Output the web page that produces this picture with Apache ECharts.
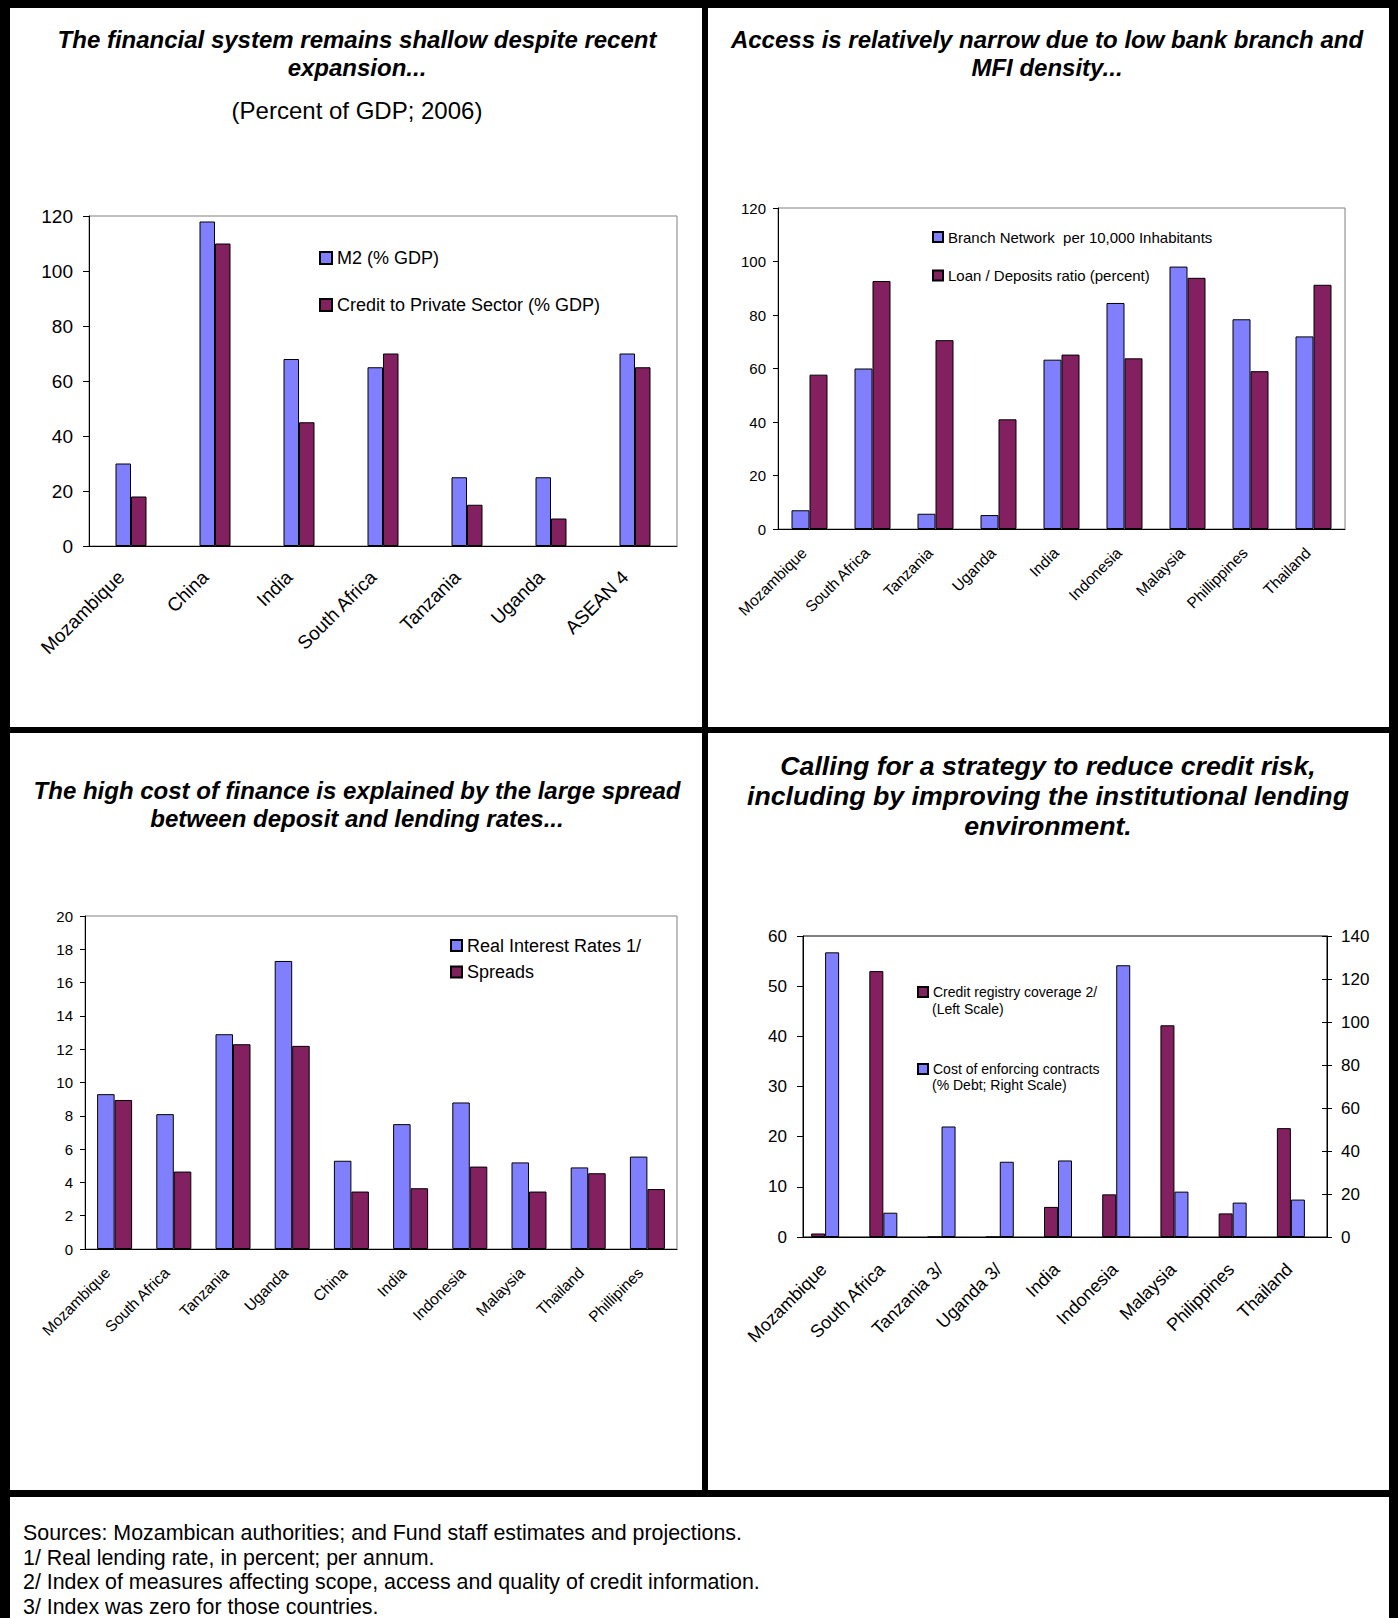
<!DOCTYPE html>
<html>
<head>
<meta charset="utf-8">
<style>
  html, body { margin: 0; padding: 0; background: #fff; }
  #main { width: 1398px; height: 1618px; }
</style>
<script src="https://cdn.jsdelivr.net/npm/echarts@6/dist/echarts.min.js"></script>
</head>
<body>
<div id="main"></div>
<script>
// chart 1: financial depth
const depthCountries = ['Mozambique', 'China', 'India', 'South Africa', 'Tanzania', 'Uganda', 'ASEAN 4'];
const m2Gdp = [30, 118, 68, 65, 25, 25, 70];
const creditGdp = [18, 110, 45, 70, 15, 10, 65];

// chart 2: access
const accessCountries = ['Mozambique', 'South Africa', 'Tanzania', 'Uganda', 'India', 'Indonesia', 'Malaysia', 'Phillippines', 'Thailand'];
const branchNetwork = [7, 60, 5.7, 5.2, 63.3, 84.5, 98.1, 78.4, 72];
const loanDeposits = [57.7, 92.7, 70.6, 41, 65.2, 63.8, 93.9, 59, 91.3];

// chart 3: cost of finance
const costCountries = ['Mozambique', 'South Africa', 'Tanzania', 'Uganda', 'China', 'India', 'Indonesia', 'Malaysia', 'Thailand', 'Phillipines'];
const realRates = [9.3, 8.1, 12.9, 17.3, 5.3, 7.5, 8.8, 5.2, 4.9, 5.55];
const spreads = [8.95, 4.65, 12.3, 12.2, 3.45, 3.65, 4.95, 3.45, 4.55, 3.6];

// chart 4: credit risk
const riskCountries = ['Mozambique', 'South Africa', 'Tanzania 3/', 'Uganda 3/', 'India', 'Indonesia', 'Malaysia', 'Philippines', 'Thailand'];
const registryCoverage = [0.7, 53, 0, 0, 6, 8.5, 42.2, 4.7, 21.7];
const enforcingCost = [132.4, 11.3, 51.4, 35, 35.6, 126.4, 21.1, 16, 17.4];

const footNotes = [
    'Sources: Mozambican authorities; and Fund staff estimates and projections.',
    '1/ Real lending rate, in percent; per annum.',
    '2/ Index of measures affecting scope, access and quality of credit information.',
    '3/ Index was zero for those countries.'
];

const FONT = '"Liberation Sans", Arial, sans-serif';
const BLUE = '#8080ff';
const PLUM = '#822060';

const myChart = echarts.init(document.getElementById('main'), null, { renderer: 'svg' });

// pad pushes the rotated label back along its own direction (down-left)
function catAxis(grid, data, size, margin, tickLen, pad) {
    return {
        gridIndex: grid, type: 'category', data: data,
        axisLine: { lineStyle: { color: '#000', width: 1 } },
        axisTick: { length: tickLen, lineStyle: { color: '#000' } },
        axisLabel: {
            rotate: 45, interval: 0, margin: margin, color: '#000',
            fontSize: size, fontFamily: FONT, padding: [0, pad, 0, 0]
        }
    };
}
function valAxis(grid, max, step, size, margin, tickLen) {
    return {
        gridIndex: grid, type: 'value', min: 0, max: max, interval: step,
        axisLine: { show: true, lineStyle: { color: '#000', width: 1 } },
        axisTick: { show: true, length: tickLen, lineStyle: { color: '#000' } },
        splitLine: { show: false },
        axisLabel: { margin: margin, color: '#000', fontSize: size, fontFamily: FONT }
    };
}
function bar(name, x, y, data, color, width) {
    return {
        name: name, type: 'bar', xAxisIndex: x, yAxisIndex: y, data: data,
        barWidth: width, barGap: '0%',
        itemStyle: { color: color, borderColor: '#000', borderWidth: 1 },
        emphasis: { disabled: true }
    };
}
function legend(names, left, top, size, box, gap) {
    return {
        data: names, orient: 'vertical', left: left, top: top, padding: 0,
        itemWidth: box, itemHeight: box, itemGap: gap, icon: 'rect', selectedMode: false,
        textStyle: { color: '#000', fontSize: size, fontFamily: FONT }
    };
}
function txt(x, y, text, font, align) {
    return {
        type: 'text', x: x, y: y,
        style: { text: text, font: font, fill: '#000', align: align || 'center', verticalAlign: 'middle' }
    };
}
function box(x, y, w, h) {
    return { type: 'rect', shape: { x: x, y: y, width: w, height: h }, style: { fill: '#000' } };
}

const titleFont = 'italic bold 24px ' + FONT;
const bigTitleFont = 'italic bold 26.7px ' + FONT;
const graphics = [
    box(0, 0, 1398, 8), box(0, 0, 10, 1618), box(1389, 0, 9, 1618),
    box(702, 0, 6, 1493), box(0, 727, 1398, 6), box(0, 1490, 1398, 7),
    txt(357, 39, 'The financial system remains shallow despite recent', titleFont),
    txt(357, 67, 'expansion...', titleFont),
    txt(357, 110, '(Percent of GDP; 2006)', '24px ' + FONT),
    txt(1047, 39, 'Access is relatively narrow due to low bank branch and', titleFont),
    txt(1047, 67, 'MFI density...', titleFont),
    txt(357, 790, 'The high cost of finance is explained by the large spread', titleFont),
    txt(357, 818, 'between deposit and lending rates...', titleFont),
    txt(1048, 766, 'Calling for a strategy to reduce credit risk,', bigTitleFont),
    txt(1048, 796, 'including by improving the institutional lending', bigTitleFont),
    txt(1048, 826, 'environment.', bigTitleFont),
    txt(932, 1009, '(Left Scale)', '14px ' + FONT, 'left'),
    txt(932, 1085, '(% Debt; Right Scale)', '14px ' + FONT, 'left')
];
footNotes.forEach(function (line, i) {
    graphics.push(txt(23, 1533 + i * 24.5, line, '21.4px ' + FONT, 'left'));
});

const option = {
    animation: false,
    backgroundColor: '#fff',
    grid: [
        { left: 89, top: 216, width: 588, height: 330, show: true, borderColor: '#808080', borderWidth: 1, outerBoundsMode: 'none' },
        { left: 778, top: 208, width: 567, height: 321, show: true, borderColor: '#808080', borderWidth: 1, outerBoundsMode: 'none' },
        { left: 85, top: 916, width: 592, height: 333, show: true, borderColor: '#808080', borderWidth: 1, outerBoundsMode: 'none' },
        { left: 803, top: 936, width: 524, height: 301, show: true, borderColor: '#000', borderWidth: 1, outerBoundsMode: 'none' }
    ],
    xAxis: [
        catAxis(0, depthCountries, 19, 18, 6, 14),
        catAxis(1, accessCountries, 15.5, 15.5, 5, 8),
        catAxis(2, costCountries, 15.5, 14, 5, 10),
        catAxis(3, riskCountries, 18, 21, 5, 12)
    ],
    yAxis: [
        valAxis(0, 120, 20, 19, 16, 6),
        valAxis(1, 120, 20, 15, 12, 5),
        valAxis(2, 20, 2, 15, 12, 5),
        valAxis(3, 60, 10, 17, 16, 6),
        Object.assign(valAxis(3, 140, 20, 17, 14, 5), { position: 'right' }),
        Object.assign(valAxis(3, 140, 20, 17, 14, 5), {
            position: 'right',
            axisLine: { show: false },
            axisTick: { show: true, inside: true, length: 5, lineStyle: { color: '#000' } },
            axisLabel: { show: false }
        })
    ],
    legend: [
        legend(['M2 (% GDP)', 'Credit to Private Sector (% GDP)'], 319, 249, 18, 12, 29),
        legend(['Branch Network  per 10,000 Inhabitants', 'Loan / Deposits ratio (percent)'], 932, 229.5, 15, 10, 23.5),
        legend(['Real Interest Rates 1/', 'Spreads'], 450, 936.5, 18, 11, 8.5),
        legend(['Credit registry coverage 2/', 'Cost of enforcing contracts'], 917, 985, 14, 10, 63)
    ],
    series: [
        bar('M2 (% GDP)', 0, 0, m2Gdp, BLUE, 15.5),
        bar('Credit to Private Sector (% GDP)', 0, 0, creditGdp, PLUM, 15.5),
        bar('Branch Network  per 10,000 Inhabitants', 1, 1, branchNetwork, BLUE, 18),
        bar('Loan / Deposits ratio (percent)', 1, 1, loanDeposits, PLUM, 18),
        bar('Real Interest Rates 1/', 2, 2, realRates, BLUE, 17.5),
        bar('Spreads', 2, 2, spreads, PLUM, 17.5),
        bar('Credit registry coverage 2/', 3, 3, registryCoverage, PLUM, 14),
        bar('Cost of enforcing contracts', 3, 4, enforcingCost, BLUE, 14),
        // empty slot: in the original the pair sits left of the category centre
        bar('', 3, 3, [], 'transparent', 14)
    ],
    graphic: graphics
};

myChart.setOption(option);
window.onresize = () => {
    myChart.resize();
};
</script>
</body>
</html>
